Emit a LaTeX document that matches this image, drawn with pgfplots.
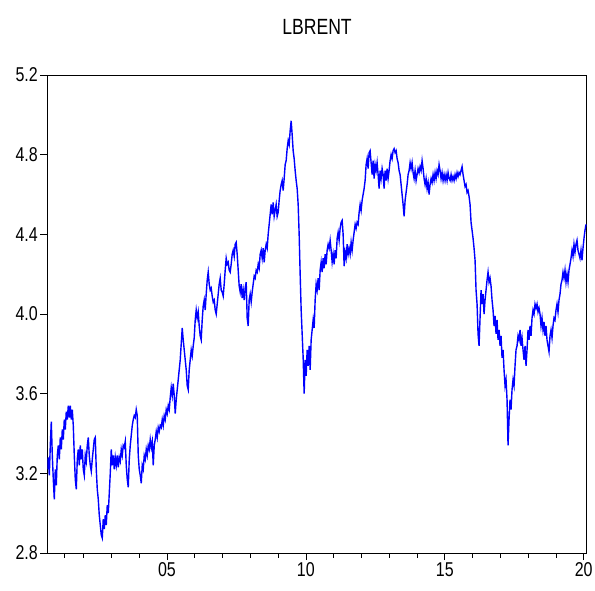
\documentclass[border=0pt]{standalone}
\usepackage{fontspec}
\setmainfont[FakeStretch=0.8]{Liberation Sans}
\usepackage{pgfplots}
\pgfplotsset{compat=1.18}
\begin{document}
\begin{tikzpicture}
\begin{axis}[
  at={(0,0)}, anchor=south west,
  scale only axis, width=539.4pt, height=478pt,
  xmin=0, xmax=539.7, ymin=2.8, ymax=5.2,
  ytick={2.8,3.2,3.6,4.0,4.4,4.8,5.2},
  yticklabels={2.8,3.2,3.6,4.0,4.4,4.8,5.2},
  xtick={119.7,258.7,397.7,536.7},
  xticklabels={05,10,15,20},
  minor xtick={17,35.7,63.7,91.7,147.5,175.3,203.1,230.9,286.5,314.3,342.1,369.9,425.5,453.3,481.1,508.9},
  tick align=outside, xtick pos=bottom, ytick pos=left,
  major tick length=7pt, minor tick length=4.5pt,
  axis line style={line width=0.9pt, black},
  tick style={black, line width=0.7pt},
  tick label style={font=\fontsize{20}{20}\selectfont},
  xticklabel style={yshift=1pt},
  yticklabel style={xshift=1pt},
  /pgf/number format/assume math mode=true,
  title={LBRENT},
  title style={at={(0.5,1)}, anchor=center, yshift=42pt, font=\fontsize{22}{22}\selectfont},
]
\addplot[blue, line width=1.4pt] coordinates {
(0,3.22)(1,3.28)(2,3.19)(3,3.34)(4,3.46)(5,3.29)(6,3.17)(7,3.07)(8,3.22)(9,3.14)
(10,3.29)(11,3.34)(12,3.27)(13,3.38)(14,3.32)(15,3.42)(16,3.37)(17,3.47)(18,3.42)(19,3.51)
(20,3.47)(21,3.54)(22,3.48)(23,3.54)(24,3.47)(25,3.52)(26,3.44)(27,3.29)(28,3.17)(29,3.12)
(30,3.27)(31,3.32)(32,3.24)(33,3.34)(34,3.27)(35,3.32)(36,3.22)(37,3.19)(38,3.29)(39,3.26)
(40,3.34)(41,3.38)(42,3.29)(43,3.24)(44,3.21)(45,3.27)(46,3.32)(47,3.37)(48,3.38)(49,3.22)
(50,3.12)(51,3.07)(52,2.99)(53,2.94)(54,2.89)(55,2.875)(56,2.97)(57,2.92)(58,2.99)(59,2.94)
(60,3.04)(61,3.00)(62,3.10)(63,3.20)(64,3.32)(65,3.24)(66,3.29)(67,3.22)(68,3.28)(69,3.24)
(70,3.29)(71,3.23)(72,3.28)(73,3.26)(74,3.32)(75,3.29)(76,3.34)(77,3.33)(78,3.36)(79,3.24)
(80,3.17)(81,3.13)(82,3.27)(83,3.34)(84,3.39)(85,3.44)(86,3.47)(87,3.49)(88,3.48)(89,3.52)
(90,3.49)(91,3.29)(92,3.22)(93,3.19)(94,3.15)(95,3.24)(96,3.22)(97,3.29)(98,3.27)(99,3.32)
(100,3.29)(101,3.34)(102,3.32)(103,3.37)(104,3.33)(105,3.36)(106,3.24)(107,3.34)(108,3.37)(109,3.41)
(110,3.38)(111,3.43)(112,3.41)(113,3.44)(114,3.43)(115,3.47)(116,3.44)(117,3.49)(118,3.47)(119,3.52)
(120,3.50)(121,3.54)(122,3.52)(123,3.58)(124,3.63)(125,3.59)(126,3.65)(127,3.59)(128,3.50)(129,3.57)
(130,3.62)(131,3.67)(132,3.72)(133,3.77)(134,3.85)(135,3.93)(136,3.87)(137,3.82)(138,3.77)(139,3.72)
(140,3.64)(141,3.62)(142,3.72)(143,3.77)(144,3.82)(145,3.79)(146,3.84)(147,3.88)(148,3.97)(149,4.02)
(150,3.98)(151,4.01)(152,3.94)(153,3.89)(154,3.87)(155,3.97)(156,4.04)(157,4.07)(158,4.02)(159,4.10)
(160,4.17)(161,4.21)(162,4.15)(163,4.12)(164,4.13)(165,4.09)(166,4.06)(167,4.07)(168,4.02)(169,4.00)
(170,4.05)(171,4.10)(172,4.15)(173,4.18)(174,4.12)(175,4.11)(176,4.09)(177,4.15)(178,4.22)(179,4.28)
(180,4.25)(181,4.26)(182,4.22)(183,4.21)(184,4.25)(185,4.30)(186,4.32)(187,4.29)(188,4.35)(189,4.36)
(190,4.30)(191,4.22)(192,4.14)(193,4.11)(194,4.15)(195,4.08)(196,4.12)(197,4.07)(198,4.13)(199,4.16)
(200,3.98)(201,3.94)(202,4.07)(203,4.10)(204,4.06)(205,4.11)(206,4.15)(207,4.19)(208,4.18)(209,4.22)
(210,4.21)(211,4.25)(212,4.23)(213,4.30)(214,4.32)(215,4.28)(216,4.33)(217,4.26)(218,4.32)(219,4.35)
(220,4.33)(221,4.40)(222,4.45)(223,4.50)(224,4.55)(225,4.50)(226,4.56)(227,4.49)(228,4.52)(229,4.55)
(230,4.49)(231,4.51)(232,4.57)(233,4.62)(234,4.65)(235,4.67)(236,4.62)(237,4.68)(238,4.75)(239,4.77)
(240,4.83)(241,4.87)(242,4.85)(243,4.92)(244,4.97)(245,4.90)(246,4.82)(247,4.78)(248,4.72)(249,4.67)
(250,4.63)(251,4.55)(252,4.40)(253,4.20)(254,4.02)(255,3.90)(256,3.78)(257,3.60)(258,3.77)(259,3.69)
(260,3.82)(261,3.74)(262,3.84)(263,3.72)(264,3.87)(265,3.92)(266,3.97)(267,3.93)(268,4.07)(269,4.15)
(270,4.12)(271,4.18)(272,4.12)(273,4.22)(274,4.26)(275,4.21)(276,4.28)(277,4.23)(278,4.30)(279,4.25)
(280,4.32)(281,4.35)(282,4.33)(283,4.37)(284,4.32)(285,4.26)(286,4.30)(287,4.25)(288,4.32)(289,4.28)
(290,4.38)(291,4.41)(292,4.37)(293,4.43)(294,4.46)(295,4.47)(296,4.40)(297,4.24)(298,4.31)(299,4.28)
(300,4.35)(301,4.30)(302,4.33)(303,4.30)(304,4.36)(305,4.32)(306,4.37)(307,4.41)(308,4.45)(309,4.43)
(310,4.46)(311,4.45)(312,4.51)(313,4.55)(314,4.52)(315,4.57)(316,4.60)(317,4.63)(318,4.67)(319,4.75)
(320,4.78)(321,4.73)(322,4.81)(323,4.82)(324,4.76)(325,4.70)(326,4.77)(327,4.68)(328,4.75)(329,4.72)
(330,4.76)(331,4.70)(332,4.63)(333,4.72)(334,4.68)(335,4.73)(336,4.70)(337,4.63)(338,4.72)(339,4.67)
(340,4.73)(341,4.68)(342,4.72)(343,4.77)(344,4.80)(345,4.78)(346,4.82)(347,4.83)(348,4.81)(349,4.82)
(350,4.78)(351,4.76)(352,4.72)(353,4.70)(354,4.65)(355,4.60)(356,4.55)(357,4.49)(358,4.57)(359,4.61)
(360,4.65)(361,4.70)(362,4.72)(363,4.76)(364,4.73)(365,4.76)(366,4.71)(367,4.68)(368,4.72)(369,4.67)
(370,4.70)(371,4.73)(372,4.71)(373,4.74)(374,4.72)(375,4.77)(376,4.73)(377,4.68)(378,4.65)(379,4.68)
(380,4.63)(381,4.66)(382,4.60)(383,4.65)(384,4.68)(385,4.66)(386,4.70)(387,4.67)(388,4.71)(389,4.68)
(390,4.72)(391,4.70)(392,4.75)(393,4.72)(394,4.68)(395,4.71)(396,4.67)(397,4.70)(398,4.67)(399,4.70)
(400,4.67)(401,4.71)(402,4.68)(403,4.67)(404,4.70)(405,4.67)(406,4.69)(407,4.67)(408,4.70)(409,4.68)
(410,4.71)(411,4.69)(412,4.71)(413,4.70)(414,4.72)(415,4.74)(416,4.70)(417,4.67)(418,4.64)(419,4.65)
(420,4.61)(421,4.62)(422,4.59)(423,4.55)(424,4.46)(425,4.42)(426,4.38)(427,4.33)(428,4.27)(429,4.12)
(430,4.05)(431,3.90)(432,3.84)(433,3.98)(434,4.12)(435,4.05)(436,4.10)(437,4.00)(438,4.07)(439,4.12)
(440,4.17)(441,4.21)(442,4.16)(443,4.18)(444,4.14)(445,4.07)(446,4.02)(447,3.94)(448,3.99)(449,3.90)
(450,3.97)(451,3.87)(452,3.92)(453,3.84)(454,3.89)(455,3.78)(456,3.82)(457,3.72)(458,3.64)(459,3.67)
(460,3.57)(461,3.34)(462,3.47)(463,3.57)(464,3.52)(465,3.62)(466,3.67)(467,3.64)(468,3.74)(469,3.82)
(470,3.84)(471,3.89)(472,3.87)(473,3.92)(474,3.84)(475,3.88)(476,3.82)(477,3.77)(478,3.84)(479,3.74)
(480,3.82)(481,3.92)(482,3.87)(483,3.94)(484,3.89)(485,3.98)(486,4.02)(487,4.00)(488,4.05)(489,4.03)
(490,4.05)(491,4.01)(492,4.03)(493,4.00)(494,3.94)(495,3.98)(496,3.92)(497,3.96)(498,3.89)(499,3.94)
(500,3.87)(501,3.84)(502,3.81)(503,3.89)(504,3.92)(505,3.88)(506,3.94)(507,3.98)(508,3.97)(509,4.02)
(510,4.05)(511,4.01)(512,4.07)(513,4.10)(514,4.15)(515,4.17)(516,4.21)(517,4.18)(518,4.22)(519,4.16)
(520,4.20)(521,4.16)(522,4.22)(523,4.25)(524,4.28)(525,4.32)(526,4.29)(527,4.35)(528,4.31)(529,4.35)
(530,4.37)(531,4.32)(532,4.30)(533,4.28)(534,4.32)(535,4.27)(536,4.33)(537,4.38)(538,4.42)(539,4.45)
};
\end{axis}
\pgfresetboundingbox
\path[use as bounding box] (-47.3pt,-37pt) rectangle (547.7pt,553pt);
\end{tikzpicture}
\end{document}
